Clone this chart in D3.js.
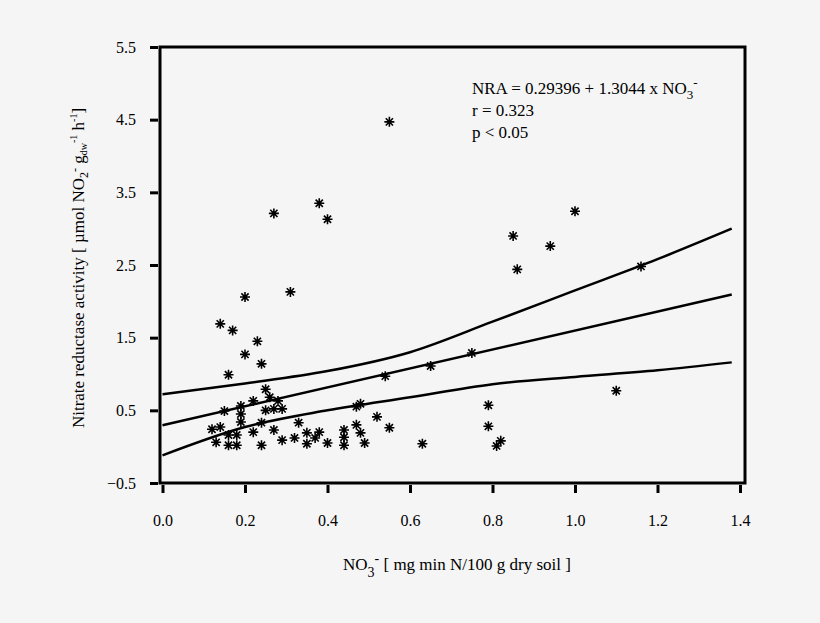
<!DOCTYPE html>
<html><head><meta charset="utf-8">
<script src="https://cdn.jsdelivr.net/npm/d3@7"></script>
<style>body{margin:0;background:#f5f5f5}</style>
</head><body><svg id="c" width="820" height="623"></svg>
<script>
const xTicks=[0,0.2,0.4,0.6,0.8,1.0,1.2,1.4];
const yTicks=[-0.5,0.5,1.5,2.5,3.5,4.5,5.5];
const ptX=[0.55,0.27,0.38,0.40,0.31,0.20,0.14,0.17,0.23,0.20,0.24,0.16,0.54,0.65,0.75,1.16,1.00,0.85,0.86,0.94,1.10,0.79,0.79,0.81,0.82,0.63,0.55,0.52,
0.25,0.26,0.22,0.28,0.19,0.15,0.25,0.27,0.29,0.19,0.19,0.24,0.14,0.12,0.22,0.27,0.16,0.18,0.13,0.16,0.18,0.24,0.29,0.32,0.33,0.35,0.35,0.37,0.38,0.40,0.44,0.44,0.44,0.47,0.48,0.47,0.48,0.49];
const ptY=[4.47,3.21,3.35,3.13,2.13,2.06,1.69,1.60,1.45,1.27,1.14,0.99,0.97,1.11,1.29,2.48,3.24,2.90,2.44,2.76,0.77,0.57,0.28,0.01,0.08,0.04,0.26,0.41,
0.79,0.68,0.63,0.63,0.56,0.49,0.50,0.52,0.52,0.45,0.34,0.33,0.27,0.24,0.20,0.23,0.16,0.16,0.06,0.02,0.02,0.02,0.09,0.12,0.33,0.19,0.04,0.12,0.20,0.05,0.23,0.13,0.02,0.55,0.59,0.30,0.19,0.05];
const bandX=[0,0.2,0.4,0.6,0.8,1.0,1.2,1.38];
const upperY=[0.72,0.87,1.04,1.30,1.72,2.15,2.58,3.0];
const lowerY=[-0.12,0.27,0.50,0.68,0.86,0.96,1.05,1.16];
const intercept=0.29396, slope=1.3044;
const FONT='"Liberation Serif","Times New Roman","DejaVu Serif",serif';

const svg=d3.select("#c");
const x=d3.scaleLinear().domain([0,1.4]).range([162.5,740]);
const y=d3.scaleLinear().domain([-0.5,5.5]).range([483,47]);
svg.append("rect").attr("x",160).attr("y",47).attr("width",585).attr("height",436).attr("fill","none").attr("stroke","#000").attr("stroke-width",3);
const xa=svg.append("g").attr("transform","translate(0,485)").call(d3.axisBottom(x).tickValues(xTicks).tickFormat(d3.format(".1f")).tickSize(8).tickPadding(22));
const ya=svg.append("g").attr("transform","translate(158,0)").call(d3.axisLeft(y).tickValues(yTicks).tickFormat(d3.format(".1f")).tickSize(8).tickPadding(14));
[xa,ya].forEach(a=>{a.attr("font-family",FONT);a.select(".domain").remove();a.selectAll("line").attr("stroke-width",3);a.selectAll("text").style("font-size","16px").style("font-family",FONT);});
const line=d3.line().x((d,i)=>x(bandX[i])).y(d=>y(d)).curve(d3.curveMonotoneX);
[upperY,lowerY].forEach(a=>svg.append("path").attr("d",line(a)).attr("fill","none").attr("stroke","#000").attr("stroke-width",2.5));
svg.append("line").attr("x1",x(0)).attr("x2",x(1.38)).attr("y1",y(intercept)).attr("y2",y(intercept+slope*1.38)).attr("stroke","#000").attr("stroke-width",2.5);
const star="M-5,0H5M0,-5V5M-3.6,-3.6L3.6,3.6M-3.6,3.6L3.6,-3.6";
svg.selectAll(".p").data(ptX).join("path").attr("d",star).attr("transform",(d,i)=>`translate(${x(d)},${y(ptY[i])})`).attr("stroke","#000").attr("stroke-width",1.6);
function T(xp,yp,extra){return svg.append("text").attr("x",xp).attr("y",yp).style("font-family",FONT).style("font-size","17px").attr("fill","#000");}
const t=T(472,94);
t.append("tspan").text("NRA = 0.29396 + 1.3044 x NO");
t.append("tspan").attr("dy",5).style("font-size","13px").text("3");
t.append("tspan").attr("dy",-12).style("font-size","13px").text("-");
T(472,116).text("r = 0.323");
T(472,138).text("p < 0.05");
const xl=T(343,570);
xl.append("tspan").text("NO");
xl.append("tspan").attr("dy",7).style("font-size","14px").text("3");
xl.append("tspan").attr("dy",-14).style("font-size","14px").text("-");
xl.append("tspan").attr("dy",7).text("  [ mg min N/100 g dry soil ]");
const yl=svg.append("text").attr("transform","translate(84,268) rotate(-90)").attr("text-anchor","middle").style("font-family",FONT).style("font-size","17px");
yl.append("tspan").text("Nitrate reductase activity  [ µmol NO");
yl.append("tspan").attr("dy",4).style("font-size","12px").text("2");
yl.append("tspan").attr("dy",-9).style("font-size","12px").text("-");
yl.append("tspan").attr("dy",5).text(" g");
yl.append("tspan").attr("dy",3).style("font-size","10px").text("dw");
yl.append("tspan").attr("dy",-10).style("font-size","10px").text("-1");
yl.append("tspan").attr("dy",7).text(" h");
yl.append("tspan").attr("dy",-7).style("font-size","10px").text("-1");
yl.append("tspan").attr("dy",7).text("]");
</script></body></html>
